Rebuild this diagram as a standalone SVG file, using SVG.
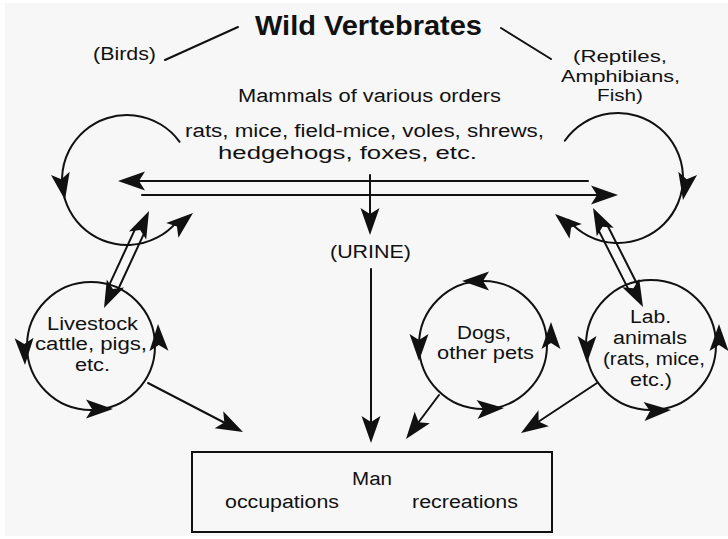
<svg xmlns="http://www.w3.org/2000/svg" xmlns:xlink="http://www.w3.org/1999/xlink" width="728" height="539" viewBox="0 0 728 539">
  <style>
    .ln { fill: none; stroke: #111; stroke-width: 2; stroke-linecap: round; }
    .box { fill: none; stroke: #111; stroke-width: 2; }
    .t { font-family: "Liberation Sans", Arial, sans-serif; font-size: 18px; fill: #111; }
    .s { font-size: 17px; }
    .title { font-family: "Liberation Sans", Arial, sans-serif; font-size: 27px; font-weight: bold; fill: #111; }
    .head { fill: #111; stroke: none; }
  </style>
  <defs>
    <!-- barbed arrowhead, tip at origin, pointing along +x -->
    <path id="ah" d="M0,0 L-27,-9.5 L-21,0 L-27,9.5 Z"/>
  </defs>

  <rect x="0" y="0" width="728" height="539" fill="#ffffff"/>
  <rect x="5" y="3" width="723" height="533" fill="#f7f7f7"/>

  <!-- heading and the two side groups -->
  <g id="wild-vertebrates">
    <text class="title" x="255" y="35" textLength="227" lengthAdjust="spacingAndGlyphs">Wild Vertebrates</text>
  </g>
  <g id="birds">
    <text class="t" x="93" y="60" textLength="63" lengthAdjust="spacingAndGlyphs">(Birds)</text>
  </g>
  <g id="reptiles">
    <text class="t s" x="573" y="62" textLength="94" lengthAdjust="spacingAndGlyphs">(Reptiles,</text>
    <text class="t s" x="561" y="81.5" textLength="119" lengthAdjust="spacingAndGlyphs">Amphibians,</text>
    <text class="t s" x="597" y="101" textLength="46" lengthAdjust="spacingAndGlyphs">Fish)</text>
  </g>
  <g id="mammals">
    <text class="t" x="238" y="102" textLength="263" lengthAdjust="spacingAndGlyphs">Mammals of various orders</text>
    <text class="t" x="185" y="137" textLength="359" lengthAdjust="spacingAndGlyphs">rats, mice, field-mice, voles, shrews,</text>
    <text class="t" x="218" y="159" textLength="259" lengthAdjust="spacingAndGlyphs">hedgehogs, foxes, etc.</text>
  </g>
  <g id="urine">
    <text class="t" x="330" y="258" textLength="81" lengthAdjust="spacingAndGlyphs">(URINE)</text>
  </g>

  <!-- wild cycles, left and right -->
  <g id="wild-cycle-left">
    <path class="ln" d="M179.6,141.8 A65,65 0 1 0 176.8,221.8"/>
    <use href="#ah" class="head" transform="translate(65,200) rotate(80)"/>
    <use href="#ah" class="head" transform="translate(193,213) rotate(-40)"/>
  </g>
  <g id="wild-cycle-right">
    <path class="ln" d="M564.8,140.7 A65,65 0 1 1 568.2,219.8"/>
    <use href="#ah" class="head" transform="translate(683,200) rotate(100)"/>
    <use href="#ah" class="head" transform="translate(555,214) rotate(-140)"/>
  </g>

  <!-- domestic cycles -->
  <g id="livestock">
    <circle class="ln" cx="91" cy="346" r="64"/>
    <use href="#ah" class="head" transform="translate(25,365) rotate(88)"/>
    <use href="#ah" class="head" transform="translate(113,409) rotate(0)"/>
    <use href="#ah" class="head" transform="translate(158,324) rotate(-92)"/>
    <text class="t" x="47" y="330" textLength="91" lengthAdjust="spacingAndGlyphs">Livestock</text>
    <text class="t" x="35" y="350" textLength="112" lengthAdjust="spacingAndGlyphs">cattle, pigs,</text>
    <text class="t" x="75" y="371" textLength="35" lengthAdjust="spacingAndGlyphs">etc.</text>
  </g>
  <g id="pets">
    <circle class="ln" cx="483" cy="345" r="64"/>
    <use href="#ah" class="head" transform="translate(462,281) rotate(180)"/>
    <use href="#ah" class="head" transform="translate(419,361) rotate(90)"/>
    <use href="#ah" class="head" transform="translate(504,408) rotate(-3)"/>
    <use href="#ah" class="head" transform="translate(551,322) rotate(-90)"/>
    <text class="t" x="457" y="339" textLength="54" lengthAdjust="spacingAndGlyphs">Dogs,</text>
    <text class="t" x="437" y="359" textLength="97" lengthAdjust="spacingAndGlyphs">other pets</text>
  </g>
  <g id="lab-animals">
    <circle class="ln" cx="651" cy="345" r="65"/>
    <use href="#ah" class="head" transform="translate(587,363) rotate(90)"/>
    <use href="#ah" class="head" transform="translate(671,410) rotate(-3)"/>
    <use href="#ah" class="head" transform="translate(719,324) rotate(-90)"/>
    <text class="t" x="630" y="323" textLength="41" lengthAdjust="spacingAndGlyphs">Lab.</text>
    <text class="t" x="613" y="344" textLength="74" lengthAdjust="spacingAndGlyphs">animals</text>
    <text class="t" x="603" y="365" textLength="102" lengthAdjust="spacingAndGlyphs">(rats, mice,</text>
    <text class="t" x="630" y="386" textLength="42" lengthAdjust="spacingAndGlyphs">etc.)</text>
  </g>

  <g id="man">
    <rect class="box" x="192" y="452" width="360" height="80"/>
    <text class="t" x="352" y="485" textLength="40" lengthAdjust="spacingAndGlyphs">Man</text>
    <text class="t" x="225" y="508" textLength="114" lengthAdjust="spacingAndGlyphs">occupations</text>
    <text class="t" x="412" y="508" textLength="106" lengthAdjust="spacingAndGlyphs">recreations</text>
  </g>

  <g id="connectors">
    <!-- leader lines from the heading -->
    <line class="ln" x1="165" y1="60" x2="238" y2="27"/>
    <line class="ln" x1="501" y1="28" x2="551" y2="59"/>

    <!-- two-way exchange between the wild cycles -->
    <line class="ln" x1="138" y1="181" x2="588" y2="181"/>
    <use href="#ah" class="head" transform="translate(118,181) rotate(180)"/>
    <line class="ln" x1="142" y1="195" x2="598" y2="195"/>
    <use href="#ah" class="head" transform="translate(618,195)"/>

    <!-- urine route down to man -->
    <line class="ln" x1="370" y1="175" x2="370" y2="215"/>
    <use href="#ah" class="head" transform="translate(370,235) rotate(90)"/>
    <line class="ln" x1="371" y1="269" x2="371" y2="423"/>
    <use href="#ah" class="head" transform="translate(371,443) rotate(90)"/>

    <!-- double-line exchange: wild (left) and livestock -->
    <line class="ln" x1="144.2" y1="233.1" x2="116.9" y2="292"/>
    <line class="ln" x1="135.2" y1="228.9" x2="107.9" y2="287.8"/>
    <use href="#ah" class="head" transform="translate(149,211) rotate(-65)"/>
    <use href="#ah" class="head" transform="translate(104,308) rotate(115)"/>

    <!-- double-line exchange: wild (right) and lab animals -->
    <line class="ln" x1="607.4" y1="225.3" x2="638.5" y2="286.8"/>
    <line class="ln" x1="598.4" y1="229.9" x2="629.5" y2="291.4"/>
    <use href="#ah" class="head" transform="translate(593,208) rotate(-117)"/>
    <use href="#ah" class="head" transform="translate(643,307) rotate(63)"/>

    <!-- domestic animals to man -->
    <line class="ln" x1="148" y1="383" x2="225" y2="423"/>
    <use href="#ah" class="head" transform="translate(243,432) rotate(27)"/>
    <line class="ln" x1="439" y1="395" x2="418" y2="423"/>
    <use href="#ah" class="head" transform="translate(406,439) rotate(127)"/>
    <line class="ln" x1="597" y1="383" x2="538" y2="422"/>
    <use href="#ah" class="head" transform="translate(521,433) rotate(147)"/>
  </g>
</svg>
